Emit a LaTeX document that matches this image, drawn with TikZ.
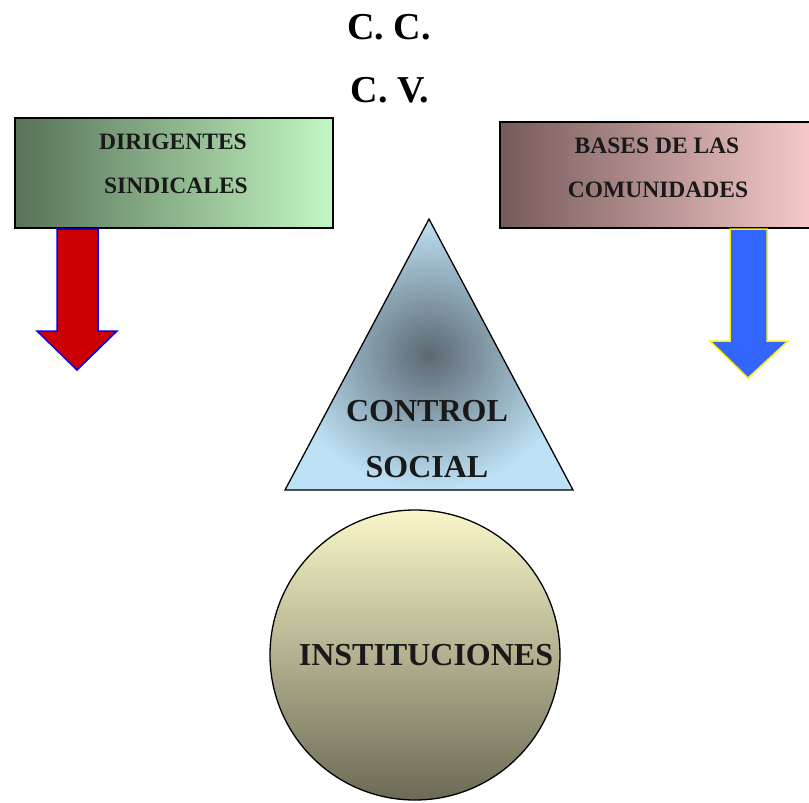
\documentclass[tikz,border=0pt]{standalone}
\usepackage{fontspec}
\setmainfont{Liberation Serif}

\definecolor{greendark}{HTML}{587258}
\definecolor{greenlight}{HTML}{C2F7C2}
\definecolor{mauvedark}{HTML}{765A5A}
\definecolor{pinklight}{HTML}{F7CACA}
\definecolor{trianglecore}{HTML}{5C6872}
\definecolor{trianglerim}{HTML}{BDE2F5}
\definecolor{circletop}{HTML}{F9F7C9}
\definecolor{circlebottom}{HTML}{6C6A55}
\definecolor{arrowred}{HTML}{CC0000}
\definecolor{arrowblue}{HTML}{3366FF}

\begin{document}
\begin{tikzpicture}[x=1pt, y=-1pt,
		boxtext/.style={font=\fontsize{23.5}{23.5}\selectfont\bfseries, text=black!90},
		bigtext/.style={font=\fontsize{32}{32}\selectfont\bfseries, text=black!90},
		outline/.style={draw=black, line width=1.3pt}]
		\useasboundingbox (0, 0) rectangle (809, 803);
		% header
		\node (cc) at (389, 27) {\fontsize{38}{38}\selectfont\bfseries C. C.};
		\node (cv) at (390, 90) {\fontsize{38}{38}\selectfont\bfseries C. V.};
		% left box and its arrow
		\shade[left color=greendark, right color=greenlight, outline] (15, 118) rectangle (333, 228);
		\node[boxtext] (dir) at (173, 142) {DIRIGENTES};
		\node[boxtext] (sind) at (176, 186) {SINDICALES};
		\draw[blue, line width=1.5pt, fill=arrowred] (57, 229) -- (98, 229) -- (98, 331) -- (117, 331)
			-- (77, 370) -- (37, 331) -- (57, 331) -- cycle;
		% right box and its arrow
		\shade[left color=mauvedark, right color=pinklight, outline] (500, 122) rectangle (812, 228);
		\node[boxtext] (bases) at (657, 146) {BASES DE LAS};
		\node[boxtext] (comu) at (658, 190) {COMUNIDADES};
		\draw[yellow, line width=1.5pt, fill=arrowblue] (730, 229) -- (767, 229) -- (767, 341) -- (788, 341)
			-- (748, 378) -- (710, 341) -- (730, 341) -- cycle;
		% triangle
		\shade[inner color=trianglecore, outer color=trianglerim, outline]
			(429, 219) -- (573, 490) -- (285, 490) -- cycle;
		\node[bigtext] (control) at (427, 411) {CONTROL};
		\node[bigtext] (social) at (427, 467) {SOCIAL};
		% circle
		\shade[top color=circletop, bottom color=circlebottom, outline] (415, 655) circle (145);
		\node[bigtext] (inst) at (426, 655) {INSTITUCIONES};
	\end{tikzpicture}
\end{document}
